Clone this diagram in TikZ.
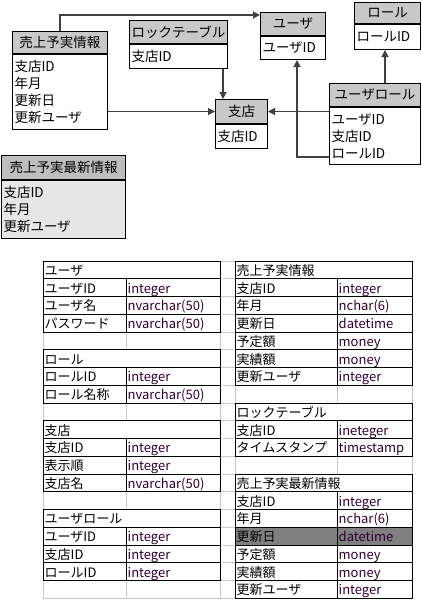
\documentclass[tikz,border=0pt]{standalone}
\usepackage{fontspec}
\setmainfont{Noto Sans CJK JP}
\usetikzlibrary{arrows.meta}

\definecolor{headgray}{RGB}{200,200,200}
\definecolor{newhead}{RGB}{190,190,190}
\definecolor{newbody}{RGB}{230,230,230}
\definecolor{gridgray}{RGB}{200,200,200}
\definecolor{hlgray}{RGB}{128,128,128}
\definecolor{linkgray}{RGB}{64,64,64}
\definecolor{typecol}{RGB}{48,0,48}

\tikzset{
    ent/.style={draw, line width=1pt, inner sep=2pt, anchor=north west,
        font=\fontsize{13.5}{17}\selectfont},
    head/.style={ent, fill=headgray, inner xsep=1pt, align=center},
    body/.style={ent, fill=white, align=left},
    link/.style={draw=linkgray, line width=1.2pt, -{Triangle[length=7pt,width=7pt]}},
    cell/.style={anchor=base west, inner sep=1.5pt, font=\fontsize{13}{15}\selectfont},
    gridline/.style={draw=gridgray, line width=.8pt},
    tbl/.style={draw=black, line width=1pt},
}

% #1 left, #2 middle, #3 right, #4 first row, #5 rows, #6 name, #7 title, #8 fields, #9 marked row
\newcommand\dbtable[9]{%
    \fill[white] (#1,{\ry+#4*\rh}) rectangle (#3,{\ry+(#4+#5)*\rh});
    \ifnum#9>0
        \fill[hlgray] (#1,{\ry+(#4+#9)*\rh}) rectangle (#3,{\ry+(#4+#9+1)*\rh});
    \fi
    \node[cell] (#6) at (#1,{\ry+(#4+1)*\rh-\bl}) {#7};
    \foreach \fld/\typ [count=\i] in {#8} {
        \node[cell] (#6-f\i) at (#1,{\ry+(#4+\i+1)*\rh-\bl}) {\fld};
        \node[cell, text=typecol] (#6-t\i) at (#2,{\ry+(#4+\i+1)*\rh-\bl}) {\typ};
    }
    \pgfmathtruncatemacro\nl{#5-1}
    \draw[tbl] (#1,{\ry+#4*\rh}) rectangle (#3,{\ry+(#4+#5)*\rh});
    \draw[tbl] (#2,{\ry+(#4+1)*\rh}) -- (#2,{\ry+(#4+#5)*\rh});
    \foreach \j in {1,...,\nl}
        \draw[tbl] (#1,{\ry+(#4+\j)*\rh}) -- (#3,{\ry+(#4+\j)*\rh});
}

\begin{document}
\begin{tikzpicture}[x=1pt, y=-1pt]
    \def\ry{261} \def\rh{17.75} \def\bl{3.5}
    \useasboundingbox (0,0) rectangle (422,600);

    % entities
    \node[head, minimum width=95pt, minimum height=22pt] (sales) at (12,31) {売上予実情報};
    \node[body, text width=91pt, minimum height=75pt] (salesB) at (sales.south west)
        {支店ID\\年月\\更新日\\更新ユーザ};
    \node[head, minimum width=98pt, minimum height=23pt] (lock) at (129,20) {ロックテーブル};
    \node[body, text width=94pt, minimum height=24pt] (lockB) at (lock.south west) {支店ID};
    \node[head, minimum width=65pt, minimum height=23pt] (user) at (260,12) {ユーザ};
    \node[body, text width=61pt, minimum height=23pt] (userB) at (user.south west) {ユーザID};
    \node[head, minimum width=66pt, minimum height=21pt] (role) at (354,2) {ロール};
    \node[body, text width=62pt, minimum height=25pt] (roleB) at (role.south west) {ロールID};
    \node[head, minimum width=91pt, minimum height=23pt] (urole) at (329,83) {ユーザロール};
    \node[body, text width=87pt, minimum height=57pt] (uroleB) at (urole.south west)
        {ユーザID\\支店ID\\ロールID};
    \node[head, minimum width=52pt, minimum height=24pt] (branch) at (215,99) {支店};
    \node[body, text width=48pt, minimum height=24pt] (branchB) at (branch.south west) {支店ID};
    \node[head, fill=newhead, minimum width=124pt, minimum height=24pt] (latest) at (1,155)
        {売上予実最新情報};
    \node[body, fill=newbody, text width=120pt, minimum height=58pt] (latestB) at (latest.south west)
        {支店ID\\年月\\更新ユーザ};

    % relations
    \draw[link] (sales.north) |- ([yshift=-3pt]user.north west);
    \draw[link] (branch.west -| salesB.east) -- (branch.west);
    \draw[link] ([xshift=-5pt]lockB.south east) -- ([xshift=-5pt]lockB.south east |- branch.north);
    \draw[link] (uroleB.west |- branch.east) -- (branch.east);
    \draw[link] ([yshift=-21pt]uroleB.west) -| ([xshift=4pt]userB.south);
    \draw[link] ([xshift=10pt]urole.north) -- ([xshift=10pt]urole.north |- roleB.south);

    % sheet grid
    \foreach \k in {0,...,19}
        \draw[gridline] (43,{\ry+\k*\rh}) -- (412,{\ry+\k*\rh});
    \foreach \x in {43,126,220,235,337,412}
        \draw[gridline] (\x,\ry) -- (\x,{\ry+19*\rh});

    % tables
    \dbtable{43}{126}{220}{0}{4}{tuser}{ユーザ}
        {ユーザID/integer, ユーザ名/nvarchar(50), パスワード/nvarchar(50)}{0}
    \dbtable{43}{126}{220}{5}{3}{trole}{ロール}
        {ロールID/integer, ロール名称/nvarchar(50)}{0}
    \dbtable{43}{126}{220}{9}{4}{tbranch}{支店}
        {支店ID/integer, 表示順/integer, 支店名/nvarchar(50)}{0}
    \dbtable{43}{126}{220}{14}{4}{turole}{ユーザロール}
        {ユーザID/integer, 支店ID/integer, ロールID/integer}{0}
    \dbtable{235}{337}{412}{0}{7}{tsales}{売上予実情報}
        {支店ID/integer, 年月/nchar(6), 更新日/datetime, 予定額/money, 実績額/money, 更新ユーザ/integer}{0}
    \dbtable{235}{337}{412}{8}{3}{tlock}{ロックテーブル}
        {支店ID/ineteger, タイムスタンプ/timestamp}{0}
    \dbtable{235}{337}{412}{12}{7}{tlatest}{売上予実最新情報}
        {支店ID/integer, 年月/nchar(6), 更新日/datetime, 予定額/money, 実績額/money, 更新ユーザ/integer}{3}
\end{tikzpicture}
\end{document}
